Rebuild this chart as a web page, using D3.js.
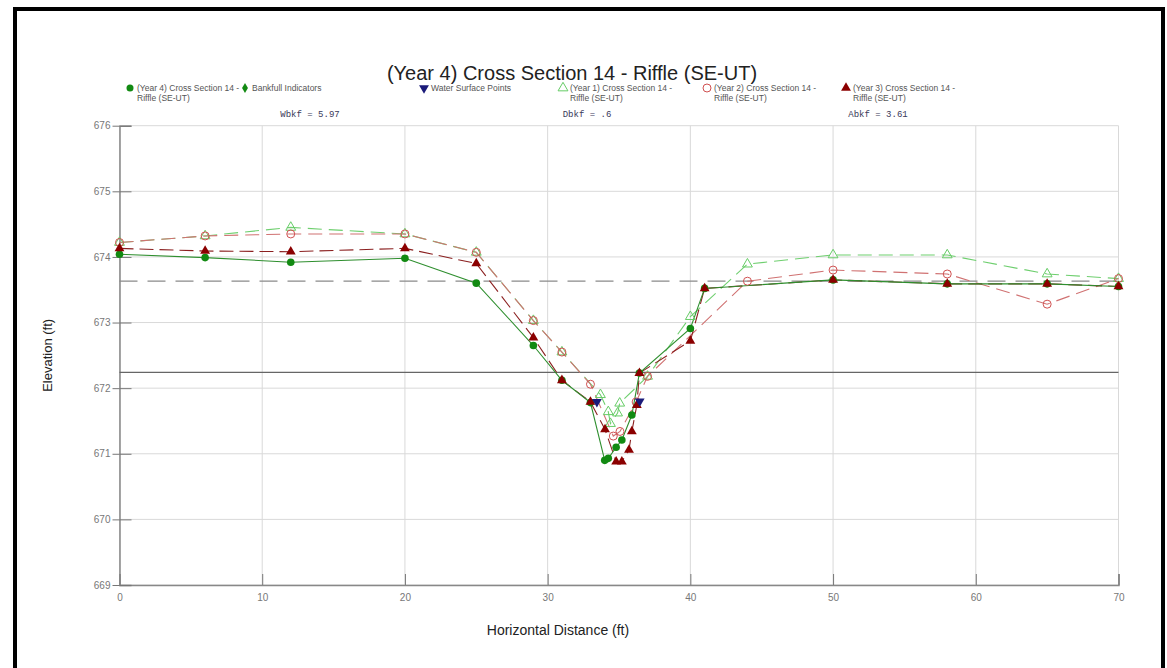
<!DOCTYPE html>
<html><head><meta charset="utf-8">
<script src="https://cdn.jsdelivr.net/npm/d3@7"></script>
<style>body{margin:0;background:#fff}svg{display:block}</style>
</head><body>
<svg id="c" width="1167" height="668"></svg>
<script>
// ---------- data ----------
const titleText = "(Year 4) Cross Section 14 - Riffle (SE-UT)";
const xTitle = "Horizontal Distance (ft)";
const yTitle = "Elevation (ft)";
const xTicks = [0, 10, 20, 30, 40, 50, 60, 70];
const yTicks = [669, 670, 671, 672, 673, 674, 675, 676];

const year4X = [0, 6, 12, 20, 25, 29, 31, 33, 34.0, 34.25, 34.8, 35.2, 35.9, 36.43, 40, 41, 50, 58, 65, 70];
const year4Y = [674.04, 673.99, 673.92, 673.98, 673.6, 672.65, 672.12, 671.78, 670.9, 670.93, 671.1, 671.21, 671.59, 672.23, 672.91, 673.52, 673.65, 673.59, 673.59, 673.55];

const year1X = [0, 6, 12, 20, 25, 29, 31, 33.7, 34.25, 34.4, 34.9, 35.05, 37, 40, 44, 50, 58, 65, 70];
const year1Y = [674.22, 674.32, 674.45, 674.35, 674.07, 673.03, 672.55, 671.9, 671.64, 671.46, 671.62, 671.77, 672.18, 673.09, 673.89, 674.03, 674.03, 673.74, 673.67];

const year2X = [0, 6, 12, 20, 25, 29, 31, 33, 34.6, 35.07, 36.2, 37, 44, 50, 58, 65, 70];
const year2Y = [674.22, 674.32, 674.35, 674.35, 674.07, 673.03, 672.55, 672.06, 671.27, 671.34, 671.79, 672.18, 673.63, 673.8, 673.74, 673.28, 673.67];

const year3X = [0, 6, 12, 20, 25, 29, 31, 33, 34.02, 34.8, 35.2, 35.7, 35.9, 36.25, 36.43, 40, 41, 50, 58, 65, 70];
const year3Y = [674.13, 674.09, 674.08, 674.13, 673.9, 672.77, 672.12, 671.79, 671.37, 670.88, 670.88, 671.06, 671.34, 671.74, 672.23, 672.72, 673.52, 673.65, 673.59, 673.59, 673.55];

const waterX = [33.45, 36.45];
const waterY = [671.79, 671.8];

const bankfullElev = 673.63;
const lowLineElev = 672.24;

const legendLabels = ["(Year 4) Cross Section 14 -|Riffle (SE-UT)", "Bankfull Indicators", "Water Surface Points",
  "(Year 1) Cross Section 14 -|Riffle (SE-UT)", "(Year 2) Cross Section 14 -|Riffle (SE-UT)", "(Year 3) Cross Section 14 -|Riffle (SE-UT)"];
const statLabels = ["Wbkf = 5.97", "Dbkf = .6", "Abkf = 3.61"];

// ---------- drawing ----------
const svg = d3.select("#c");
const L = 119.5, R = 1118.5, T = 125.7, B = 585;
const x = d3.scaleLinear().domain([0, 70]).range([L, R]);
const y = d3.scaleLinear().domain([669, 676]).range([B, T]);
const font = "Arial, 'Liberation Sans', Helvetica, sans-serif";

// outer frame
svg.append("rect").attr("x", 15).attr("y", 9).attr("width", 1148).attr("height", 700)
  .attr("fill", "none").attr("stroke", "#000").attr("stroke-width", 4);

// grid
const g = svg.append("g");
g.selectAll(".vg").data(xTicks).enter().append("line")
  .attr("x1", d => x(d)).attr("x2", d => x(d)).attr("y1", T).attr("y2", B)
  .attr("stroke", "#d9d9d9").attr("stroke-width", 1);
g.selectAll(".hg").data(yTicks).enter().append("line")
  .attr("x1", L).attr("x2", R).attr("y1", d => y(d)).attr("y2", d => y(d))
  .attr("stroke", "#d9d9d9").attr("stroke-width", 1);

// axes
const ax = svg.append("g").attr("transform", `translate(0,${B})`)
  .call(d3.axisBottom(x).tickValues(xTicks).tickSize(-11).tickPadding(9).tickFormat(d3.format("d")));
const ay = svg.append("g").attr("transform", `translate(${L},0)`)
  .call(d3.axisLeft(y).tickValues(yTicks).tickSize(-12).tickPadding(9).tickFormat(d3.format("d")));
ay.selectAll(".tick").append("line").attr("x1", -7).attr("x2", 0).attr("stroke", "#777");
[ax, ay].forEach(a => {
  a.select(".domain").attr("stroke", "#888").attr("stroke-width", 1.5);
  a.selectAll(".tick line").attr("stroke", "#777");
  a.selectAll("text").attr("fill", "#777").style("font-family", font).style("font-size", "10px");
});

// reference lines
svg.append("line").attr("x1", L).attr("x2", R).attr("y1", y(bankfullElev)).attr("y2", y(bankfullElev))
  .attr("stroke", "#8a8a8a").attr("stroke-width", 1.2).attr("stroke-dasharray", "18,10");
svg.append("line").attr("x1", L).attr("x2", R).attr("y1", y(lowLineElev)).attr("y2", y(lowLineElev))
  .attr("stroke", "#666").attr("stroke-width", 1.2);

const zip = (xs, ys) => xs.map((v, i) => [v, ys[i]]);
const line = d3.line().x(d => x(d[0])).y(d => y(d[1]));

const series = [
  {pts: zip(year1X, year1Y), color: "#6fcf6f", dash: "14,7", w: 1.1},
  {pts: zip(year2X, year2Y), color: "#d07272", dash: "14,7", w: 1.1},
  {pts: zip(year3X, year3Y), color: "#8b2020", dash: "14,6", w: 1.1},
  {pts: zip(year4X, year4Y), color: "#2f8f2f", dash: null, w: 1.1}
];
series.forEach(s => {
  svg.append("path").datum(s.pts).attr("d", line).attr("fill", "none")
    .attr("stroke", s.color).attr("stroke-width", s.w)
    .attr("stroke-dasharray", s.dash);
});

const tri = d3.symbol().type(d3.symbolTriangle).size(42);
// Year 1 open triangles
svg.selectAll(".y1").data(zip(year1X, year1Y)).enter().append("path")
  .attr("d", tri).attr("transform", d => `translate(${x(d[0])},${y(d[1])})`)
  .attr("fill", "none").attr("stroke", "#66cc66").attr("stroke-width", 1);
// Year 2 open circles
svg.selectAll(".y2").data(zip(year2X, year2Y)).enter().append("circle")
  .attr("cx", d => x(d[0])).attr("cy", d => y(d[1])).attr("r", 4)
  .attr("fill", "none").attr("stroke", "#d05050").attr("stroke-width", 1);
// Year 4 filled circles
svg.selectAll(".y4").data(zip(year4X, year4Y)).enter().append("circle")
  .attr("cx", d => x(d[0])).attr("cy", d => y(d[1])).attr("r", 3.8)
  .attr("fill", "#128a12");
// Year 3 filled triangles
svg.selectAll(".y3").data(zip(year3X, year3Y)).enter().append("path")
  .attr("d", tri).attr("transform", d => `translate(${x(d[0])},${y(d[1])})`)
  .attr("fill", "#8b0000");
// water surface points
svg.selectAll(".ws").data(zip(waterX, waterY)).enter().append("path")
  .attr("d", tri).attr("transform", d => `translate(${x(d[0])},${y(d[1])}) rotate(180)`)
  .attr("fill", "#1b1b7a");

// title
svg.append("text").attr("x", 572).attr("y", 80).attr("text-anchor", "middle")
  .style("font-family", font).style("font-size", "20px").attr("fill", "#222").text(titleText);

// legend
const legX = [130, 245, 424, 563, 707, 846];
const legY = 88;
const lg = svg.append("g");
legendLabels.forEach((lab, i) => {
  const parts = lab.split("|");
  const t = lg.append("text").attr("x", legX[i] + 7).attr("y", legY + 3)
    .style("font-family", font).style("font-size", "8.5px").attr("fill", "#555");
  parts.forEach((p, j) => t.append("tspan").attr("x", legX[i] + 7).attr("dy", j ? 10 : 0).text(p));
});
const sym = d3.symbol();
lg.append("circle").attr("cx", legX[0]).attr("cy", legY).attr("r", 3.5).attr("fill", "#128a12");
lg.append("path").attr("d", sym.type(d3.symbolDiamond).size(30)()).attr("transform", `translate(${legX[1]},${legY})`).attr("fill", "#128a12");
lg.append("path").attr("d", tri()).attr("transform", `translate(${legX[2]},${legY}) rotate(180)`).attr("fill", "#1b1b7a");
lg.append("path").attr("d", tri()).attr("transform", `translate(${legX[3]},${legY})`).attr("fill", "none").attr("stroke", "#66cc66");
lg.append("circle").attr("cx", legX[4]).attr("cy", legY).attr("r", 4).attr("fill", "none").attr("stroke", "#d05050");
lg.append("path").attr("d", tri()).attr("transform", `translate(${legX[5]},${legY})`).attr("fill", "#8b0000");

// stats
const statX = [310, 587, 878];
statLabels.forEach((s, i) => {
  svg.append("text").attr("x", statX[i]).attr("y", 117).attr("text-anchor", "middle")
    .style("font-family", "'Liberation Mono', 'Courier New', monospace").style("font-size", "9px")
    .attr("fill", "#3a3a5a").text(s);
});

// axis titles
svg.append("text").attr("x", 558).attr("y", 635).attr("text-anchor", "middle")
  .style("font-family", font).style("font-size", "14px").attr("fill", "#222").text(xTitle);
svg.append("text").attr("transform", `translate(52,${(T + B) / 2}) rotate(-90)`).attr("text-anchor", "middle")
  .style("font-family", font).style("font-size", "13px").attr("fill", "#222").text(yTitle);
</script>
</body></html>
